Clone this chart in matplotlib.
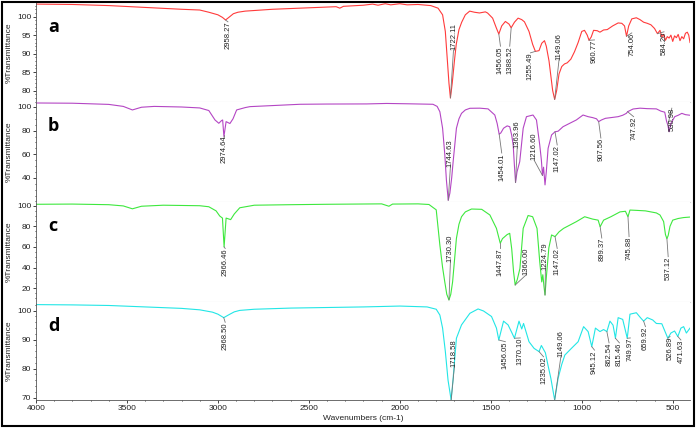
import matplotlib
matplotlib.use("Agg")
import matplotlib.pyplot as plt
from matplotlib.patches import Rectangle
from matplotlib.ticker import MultipleLocator
import numpy as np

plt.rcParams["font.family"] = ["Liberation Sans", "DejaVu Sans"]

# ---------------------------------------------------------------- spectra
wn_a = [4000, 3800, 3600, 3400, 3200, 3100, 3050, 3000, 2975, 2958, 2940, 2915, 2890,
        2850, 2700, 2500, 2350, 2330, 2310, 2200, 2150, 2120, 2080, 2050, 2000, 1960,
        1900, 1830, 1790, 1765, 1750, 1740, 1730, 1722, 1712, 1700, 1690, 1675, 1660,
        1640, 1616, 1590, 1562, 1530, 1518, 1490, 1470, 1456, 1440, 1420, 1400, 1388,
        1370, 1350, 1330, 1315, 1290, 1270, 1255, 1235, 1220, 1205, 1195, 1180, 1170,
        1160, 1149, 1138, 1125, 1110, 1095, 1080, 1060, 1040, 1020, 1000, 985, 970, 960,
        948, 935, 915, 900, 880, 860, 830, 800, 780, 765, 754, 742, 725, 700, 680, 660,
        640, 620, 600, 584, 570, 560, 550, 540, 530, 520, 510, 500, 490, 480, 470, 460,
        450, 440, 430, 420, 412, 405]
t_a = [103.4, 103.3, 103.0, 102.5, 102.0, 101.8, 101.2, 100.5, 99.8, 99.1, 99.8, 100.8,
       101.2, 101.5, 102.0, 102.4, 102.7, 102.3, 102.8, 103.1, 103.4, 103.1, 103.5, 103.2,
       103.5, 103.2, 103.3, 103.0, 102.3, 100.5, 96.0, 89.0, 82.0, 78.0, 82.0, 88.0, 92.5,
       96.5, 98.5, 100.5, 101.5, 101.2, 101.0, 101.3, 101.0, 99.6, 97.0, 95.3, 97.5, 98.7,
       98.0, 97.0, 98.5, 99.6, 99.2, 98.6, 96.0, 92.5, 90.6, 90.8, 92.8, 93.5, 92.0, 88.0,
       84.0, 80.0, 77.6, 80.0, 84.5, 86.5, 87.2, 87.5, 88.5, 90.5, 93.0, 96.0, 96.3, 95.0,
       93.6, 94.5, 96.3, 96.2, 95.8, 96.4, 96.5, 97.5, 98.3, 98.2, 97.5, 94.7, 97.5, 99.4,
       99.7, 99.2, 98.5, 98.2, 97.8, 96.8, 95.4, 96.3, 94.5, 95.2, 93.6, 94.6, 94.2, 95.0,
       93.3, 94.8, 94.3, 95.2, 93.5, 94.6, 94.0, 95.5, 95.8, 95.0, 93.0]

wn_b = [4000, 3800, 3600, 3520, 3470, 3420, 3350, 3200, 3100, 3050, 3016, 2995, 2980,
        2974, 2967, 2955, 2934, 2917, 2897, 2850, 2824, 2700, 2549, 2400, 2183, 2073,
        1950, 1850, 1818, 1795, 1780, 1765, 1753, 1744, 1734, 1725, 1715, 1707, 1689,
        1675, 1661, 1640, 1615, 1560, 1515, 1478, 1465, 1454, 1445, 1430, 1410, 1396,
        1385, 1377, 1370, 1364, 1356, 1341, 1322, 1304, 1268, 1249, 1231, 1222, 1216,
        1210, 1202, 1195, 1185, 1166, 1147, 1130, 1103, 1066, 1030, 993, 965, 940, 919,
        907, 892, 870, 840, 800, 775, 755, 748, 718, 680, 640, 590, 565, 544, 534, 527,
        520, 510, 489, 470, 450, 430, 405]
t_b = [103.4, 103.2, 102.2, 100.5, 97.5, 99.8, 100.5, 100.0, 99.2, 97.0, 89.0, 86.2,
       88.5, 89.0, 75.0, 87.6, 86.0, 90.0, 97.5, 99.5, 100.3, 101.2, 102.3, 102.5, 102.6,
       103.0, 102.7, 102.4, 102.3, 100.5, 96.0, 82.0, 60.0, 38.0, 21.0, 27.0, 40.0, 53.7,
       82.0, 90.0, 94.6, 97.5, 98.9, 99.0, 98.4, 93.2, 86.0, 77.0, 78.0, 82.0, 84.0, 83.3,
       76.0, 67.8, 50.0, 36.0, 45.0, 53.7, 82.0, 91.8, 93.2, 89.0, 67.8, 55.0, 42.0, 49.0,
       34.0, 45.0, 65.0, 76.3, 79.0, 79.5, 83.3, 86.2, 89.0, 93.2, 91.8, 91.0, 90.0, 87.6,
       89.0, 90.4, 91.0, 91.8, 93.0, 94.6, 96.0, 98.3, 99.0, 98.6, 98.4, 96.5, 95.6, 88.0,
       84.7, 79.0, 86.0, 91.8, 93.0, 94.6, 93.5, 93.0]

wn_c = [4000, 3800, 3600, 3520, 3470, 3420, 3300, 3100, 3050, 3010, 2990, 2975, 2966,
        2955, 2930, 2910, 2880, 2800, 2600, 2400, 2100, 2060, 2040, 1900, 1840, 1800,
        1780, 1765, 1753, 1742, 1730, 1720, 1710, 1689, 1675, 1661, 1640, 1606, 1550,
        1505, 1469, 1448, 1436, 1410, 1396, 1385, 1375, 1366, 1355, 1340, 1322, 1295,
        1270, 1246, 1231, 1220, 1214, 1208, 1202, 1195, 1181, 1166, 1147, 1125, 1100,
        1030, 984, 940, 910, 899, 880, 840, 790, 760, 746, 735, 700, 650, 590, 570, 550,
        540, 532, 525, 515, 500, 470, 440, 405]
t_c = [101.4, 101.6, 101.0, 99.8, 97.0, 99.5, 100.5, 100.0, 99.0, 95.0, 90.0, 88.0,
       60.0, 88.0, 86.5, 92.0, 98.0, 100.5, 101.0, 101.4, 101.8, 99.5, 101.6, 101.8,
       101.2, 96.0, 61.8, 40.0, 26.0, 14.0, 8.5, 14.0, 26.0, 68.3, 82.0, 89.3, 94.0, 96.8,
       96.5, 91.0, 78.0, 63.5, 68.0, 72.0, 73.2, 58.0, 36.0, 23.0, 28.0, 39.0, 78.0, 90.5,
       89.3, 78.0, 45.6, 26.0, 33.0, 22.0, 13.3, 30.0, 59.0, 71.6, 70.0, 74.6, 78.0, 84.5,
       89.3, 87.0, 86.0, 79.6, 86.0, 89.3, 94.0, 94.6, 89.3, 95.8, 95.5, 95.0, 93.0, 91.0,
       84.6, 72.0, 68.0, 71.0, 80.0, 86.0, 87.6, 88.5, 89.0]

wn_d = [4000, 3800, 3600, 3400, 3200, 3100, 3030, 3000, 2968, 2940, 2910, 2880, 2800,
        2600, 2400, 2200, 2000, 1850, 1800, 1780, 1765, 1750, 1735, 1718, 1708, 1689,
        1661, 1615, 1570, 1540, 1496, 1469, 1456, 1430, 1405, 1385, 1370, 1345, 1330,
        1320, 1290, 1262, 1235, 1222, 1200, 1185, 1170, 1149, 1130, 1110, 1093, 1057,
        1020, 990, 965, 945, 925, 900, 880, 862, 845, 828, 815, 800, 775, 750, 735, 700,
        676, 660, 640, 610, 590, 560, 527, 510, 490, 472, 455, 440, 425, 405]
t_d = [102.1, 102.0, 101.8, 101.3, 100.8, 100.3, 99.5, 98.8, 97.6, 98.6, 99.6, 100.1,
       100.5, 100.9, 101.1, 101.3, 101.6, 101.3, 100.5, 98.5, 94.0, 86.0, 76.0, 69.2, 76.0,
       90.5, 95.1, 99.1, 100.6, 99.9, 98.0, 94.0, 89.9, 96.4, 95.1, 92.5, 90.5, 96.4, 93.7,
       95.6, 89.3, 87.0, 85.9, 88.0, 85.5, 81.0, 76.7, 69.2, 76.7, 81.5, 84.7, 87.0, 89.3,
       94.5, 92.8, 87.6, 94.0, 92.8, 93.5, 92.8, 96.4, 95.0, 90.5, 97.6, 97.0, 90.5, 98.8,
       99.3, 97.5, 96.4, 97.6, 96.8, 95.6, 95.5, 90.5, 92.3, 93.0, 91.1, 94.0, 94.5, 92.3,
       94.0]

# peak labels: (text, peak wavenumber, text wavenumber, text y, text anchor)
labels_a = [("2958.27", 2958, 2945, 98.6, "top"), ("1722.11", 1722, 1705, 91.0, "bottom"),
            ("1456.05", 1456, 1447, 92.0, "top"), ("1388.52", 1388, 1396, 92.0, "top"),
            ("1255.49", 1255, 1282, 90.2, "top"), ("1149.06", 1149, 1125, 88.3, "bottom"),
            ("960.77", 960, 930, 93.7, "top"), ("754.06", 754, 725, 95.6, "top"),
            ("584.20", 584, 548, 95.9, "top")]
labels_b = [("2974.64", 2967, 2967, 76.3, "top"), ("1744.63", 1734, 1722, 49.4, "bottom"),
            ("1454.01", 1454, 1440, 61.0, "top"), ("1363.96", 1364, 1355, 65.0, "bottom"),
            ("1216.60", 1216, 1262, 55.0, "bottom"), ("1147.02", 1147, 1135, 67.8, "top"),
            ("907.56", 907, 895, 73.7, "top"), ("747.92", 748, 715, 91.8, "top"),
            ("530.98", 527, 505, 99.0, "top")]
labels_c = [("2966.46", 2966, 2960, 58.5, "top"), ("1730.30", 1730, 1722, 45.6, "bottom"),
            ("1447.87", 1448, 1448, 59.0, "top"), ("1366.00", 1366, 1305, 33.0, "bottom"),
            ("1224.79", 1202, 1200, 37.5, "bottom"), ("1147.02", 1147, 1135, 58.5, "top"),
            ("899.37", 899, 890, 68.6, "top"), ("745.88", 746, 740, 70.0, "top"),
            ("537.12", 532, 525, 50.5, "top")]
labels_d = [("2968.50", 2968, 2960, 96.0, "top"), ("1718.58", 1718, 1700, 80.7, "bottom"),
            ("1456.05", 1456, 1420, 89.3, "top"), ("1370.10", 1370, 1338, 90.6, "top"),
            ("1235.02", 1235, 1210, 84.1, "top"), ("1149.06", 1149, 1115, 84.1, "bottom"),
            ("945.12", 945, 930, 86.4, "top"), ("862.54", 862, 850, 88.9, "top"),
            ("815.46", 815, 793, 88.9, "top"), ("749.97", 750, 733, 90.6, "top"),
            ("659.92", 660, 650, 94.5, "top"), ("526.89", 527, 515, 91.1, "top"),
            ("471.63", 472, 455, 89.9, "top")]

panels = [
    ("a", wn_a, t_a, "#ff3b3b", (76.9, 103.7), [80, 85, 90, 95, 100], 1, labels_a),
    ("b", wn_b, t_b, "#b446c4", (19.5, 104.2), [40, 60, 80, 100], 5, labels_b),
    ("c", wn_c, t_c, "#3ee83e", (6.5, 103.6), [20, 40, 60, 80, 100], 5, labels_c),
    ("d", wn_d, t_d, "#22e6e6", (69.2, 103.0), [70, 80, 90, 100], 2, labels_d),
]
rects = [(0.0517, 0.7617, 0.9397, 0.2313), (0.0517, 0.5280, 0.9397, 0.2336),
         (0.0517, 0.2944, 0.9397, 0.2336), (0.0517, 0.0654, 0.9397, 0.2290)]

fig = plt.figure(figsize=(6.96, 4.28), dpi=100)

for i, (letter, wn, tr, col, ylim, yt, ymin, labs) in enumerate(panels):
    ax = fig.add_axes(rects[i])
    ax.plot(wn, tr, color=col, lw=0.8)
    ax.set_xlim(4000, 405)
    ax.set_ylim(*ylim)
    ax.set_yticks(yt)
    ax.yaxis.set_minor_locator(MultipleLocator(ymin))
    ax.tick_params(axis="y", labelsize=6, length=2, width=0.6, pad=1.5, colors="#222222")
    ax.tick_params(axis="y", which="minor", length=1, width=0.5)
    ax.set_ylabel("%Transmittance", fontsize=6, color="#222222")
    ax.yaxis.set_label_coords(-0.036, 0.5)
    ax.spines["top"].set_visible(False)
    ax.spines["right"].set_visible(False)
    ax.spines["left"].set_color("#555555")
    ax.spines["left"].set_linewidth(0.6)
    ax.text(0.018, 0.76, letter, transform=ax.transAxes, fontsize=13,
            fontweight="bold", family="Open Sans", va="center", ha="left")
    if i < 3:
        ax.spines["bottom"].set_color("#d8d8d8")
        ax.spines["bottom"].set_linewidth(0.8)
        ax.set_xticks([])
    else:
        ax.spines["bottom"].set_color("#555555")
        ax.spines["bottom"].set_linewidth(0.6)
        ax.set_xticks([4000, 3500, 3000, 2500, 2000, 1500, 1000, 500])
        ax.xaxis.set_minor_locator(MultipleLocator(100))
        ax.tick_params(axis="x", labelsize=6, length=2, width=0.6, pad=1.5, colors="#222222")
        ax.tick_params(axis="x", which="minor", length=1, width=0.5)
        ax.set_xlabel("Wavenumbers (cm-1)", fontsize=6, labelpad=2, color="#222222")
    wn_arr = np.array(wn[::-1], dtype=float)
    tr_arr = np.array(tr[::-1], dtype=float)
    for txt, pk, tx, ty, va in labs:
        py = np.interp(pk, wn_arr, tr_arr)
        ax.plot([pk, tx], [py, ty], color="#777777", lw=0.6)
        ax.text(tx, ty, txt, rotation=90, fontsize=5.5, ha="center", va=va,
                color="#222222")

fig.patches.append(Rectangle((0.003, 0.005), 0.994, 0.99, transform=fig.transFigure,
                             fill=False, edgecolor="black", lw=1.5))
fig.savefig("out.png", dpi=100)
